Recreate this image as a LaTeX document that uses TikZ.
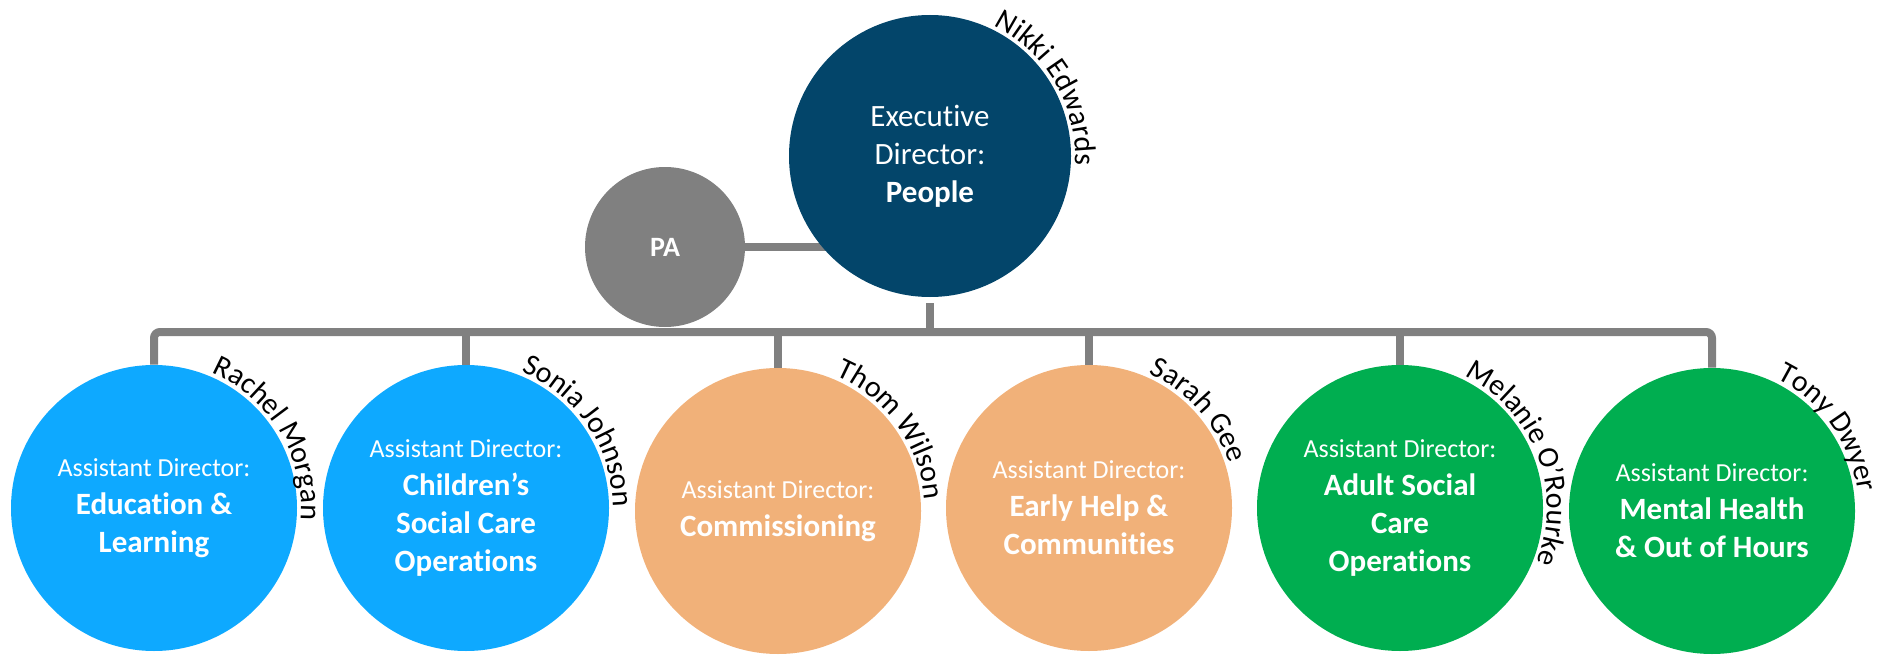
\documentclass[tikz,border=0pt]{standalone}
\usepackage{fontspec}
\setmainfont[Ligatures=NoCommon]{Carlito}
\usetikzlibrary{calc,decorations.text,backgrounds}
\definecolor{peopleblue}{HTML}{03456A}
\definecolor{learnblue}{HTML}{0EA9FF}
\definecolor{commorange}{HTML}{F1B179}
\definecolor{caregreen}{HTML}{00AE50}
\definecolor{linkgray}{HTML}{808080}
\newcommand\namefont{\fontsize{15}{18}\selectfont}
\newcommand\rolefont{\fontsize{13}{19}\selectfont\mdseries}
\newcommand\namearc[4]{
  \def\R{#2} \def\A{#3}
  \path[decorate,decoration={text along path,text align=left,text={|\namefont|#4}}]
    ($(#1)+(\A:\R)$) arc[start angle=\A, end angle=\A-160, radius=\R];
}
\tikzset{
  unit/.style={circle,inner sep=0pt,minimum size=143pt,text=white,align=center,
    font=\fontsize{15.5}{19}\selectfont\bfseries},
  lead/.style={circle,inner sep=0pt,minimum size=141pt,text=white,align=center,
    fill=peopleblue,font=\fontsize{15.5}{19}\selectfont},
  aide/.style={circle,inner sep=0pt,minimum size=80pt,text=white,
    fill=linkgray,font=\fontsize{14}{17}\selectfont\bfseries},
  link/.style={draw=linkgray,line width=4pt}
}

\begin{document}
\begin{tikzpicture}[x=0.5pt, y=0.5pt]
\useasboundingbox (0,0) rectangle (1880,655);
\node[lead] (exec) at (930,499) {Executive\\Director:\\\textbf{People}};
\node[aide] (pa) at (665,408) {PA};

\node[unit,fill=learnblue] (rachel) at (154,147)
  {{\rolefont Assistant Director:}\\Education \&\\Learning};
\node[unit,fill=learnblue] (sonia) at (466,147)
  {{\rolefont Assistant Director:}\\Children’s\\Social Care\\Operations};
\node[unit,fill=commorange] (thom) at (778,144)
  {{\rolefont Assistant Director:}\\Commissioning};
\node[unit,fill=commorange] (sarah) at (1089,147)
  {{\rolefont Assistant Director:}\\Early Help \&\\Communities};
\node[unit,fill=caregreen] (melanie) at (1400,147)
  {{\rolefont Assistant Director:}\\Adult Social\\Care\\Operations};
\node[unit,fill=caregreen] (tony) at (1712,144)
  {{\rolefont Assistant Director:}\\Mental Health\\\& Out of Hours};

\coordinate (bar) at (0,323);
\begin{scope}[on background layer]
  \draw[link] (pa.east) -- (exec.center |- pa.east);
\end{scope}
\draw[link,shorten <=3pt] (exec.south) -- (exec.south |- bar);
\draw[link,rounded corners=3pt] (rachel.north) |- (tony.north |- bar) -- (tony.north);
\foreach \n in {sonia,thom,sarah,melanie}
  \draw[link] (\n.north) -- (\n.north |- bar);

\namearc{exec}{145}{64}{Nikki Edwards}
\namearc{rachel}{147}{67}{Rachel Morgan}
\namearc{sonia}{147}{68}{Sonia Johnson}
\namearc{thom}{147}{67}{Thom Wilson}
\namearc{sarah}{147}{66}{Sarah Gee}
\namearc{melanie}{147}{64}{Melanie O’Rourke}
\namearc{tony}{147}{64}{Tony Dwyer}
\end{tikzpicture}
\end{document}
